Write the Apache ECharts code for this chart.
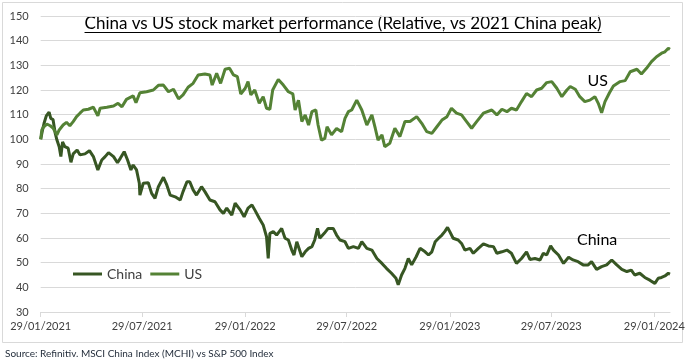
<!DOCTYPE html>
<html>
<head>
<meta charset="utf-8">
<script src="https://cdn.jsdelivr.net/npm/echarts@6/dist/echarts.min.js"></script>
<style>
html,body{margin:0;padding:0;background:#fff;}
#chart{width:690px;height:362px;}
</style>
</head>
<body>
<div id="chart"></div>
<script>
// Dates are given as days since 29/01/2021
const startDate = [2021, 0, 29];
const endDay = 1123;
const tickDays = [0, 181, 365, 546, 730, 911, 1095];
const yTicks = { min: 30, max: 150, step: 10 };

const usDay = [0,2,5,11,17,22,29,33,40,46,52,58,64,70,76,85,94,102,106,118,130,138,145,153,165,170,177,189,201,210,219,228,237,246,254,263,272,281,293,302,306,314,321,329,337,344,351,357,365,370,375,382,390,397,403,409,414,424,433,442,450,454,460,466,472,478,484,491,495,501,507,511,519,528,537,543,549,555,564,573,582,591,597,602,609,614,623,632,641,650,659,671,680,689,698,707,716,725,733,742,751,760,769,778,790,805,814,823,832,840,849,858,867,876,885,894,903,912,921,930,939,945,954,962,971,980,989,995,1001,1007,1015,1022,1034,1043,1052,1064,1072,1081,1090,1099,1108,1114,1120,1123];
const usVal = [100,103.8,105,106.2,105.5,104.6,101.8,103.8,105.8,106.9,105.5,107.2,109.2,110.6,111.9,112.2,113,109.5,112.6,113,113.5,114.6,113.2,116.2,117.6,114.9,118.9,119.3,120,121.9,122,119.3,120.3,116.4,118,121.1,122.7,126.1,126.5,126.1,122,126.8,122.7,128.4,128.8,126.1,125.4,118.4,120.7,123.4,118,120,114.6,117.3,112.6,112.2,120,124.3,122,119.3,118.4,111.9,115.9,107.2,109.9,105.8,111.2,111.9,105.8,99.7,100.4,105.1,101.8,104.4,103.1,108.5,111.2,111.9,115.9,111.9,105.8,109.9,104.5,99.7,101.8,97,98.4,104.5,101.1,107.2,107.2,109.2,106.5,103.1,102.4,105.1,107.8,109.2,112.6,110.6,109.9,107.2,104.5,107.2,110.6,111.9,109.9,112.2,111.2,112.6,111.9,115.3,118.6,117.3,120,120.7,123,123.4,120.7,117.3,120,121.4,120.3,117.3,115.3,115.9,117.3,114.6,110.8,115.3,118.9,121.6,123.4,123.8,127.4,128.4,126.5,128.8,131.5,133.5,134.9,135.5,136.9,136.5];

const chinaDay = [0,3,6,10,15,18,22,26,29,33,36,39,43,49,54,58,65,70,79,87,94,102,109,115,121,130,137,142,149,155,161,165,171,176,177,183,192,198,204,210,219,225,231,240,249,254,261,266,272,278,287,293,302,311,320,326,332,341,347,356,363,370,377,382,390,397,403,406,409,415,421,430,436,442,448,452,457,460,466,472,478,484,489,494,498,506,513,522,528,534,543,549,558,567,573,582,591,600,609,617,626,634,638,644,650,656,662,670,677,686,692,698,704,710,716,721,726,730,736,745,751,757,766,772,781,790,799,808,814,823,832,840,849,858,867,873,882,891,897,903,910,915,924,933,942,950,959,968,977,983,992,1001,1010,1019,1028,1037,1046,1054,1060,1069,1078,1087,1096,1102,1108,1114,1120,1123];
const chinaVal = [100,103.5,106.5,109.5,111,108.5,108,102.4,99.7,97,93,99,97,96.4,90.7,94.1,95.7,93.7,94.1,95.4,93,87.6,91.6,93,94.6,93,90.5,92.3,95,91.6,87.6,89.6,87.6,82.2,77.4,82.2,82.4,78.1,76.1,80.8,84.6,81.5,77.4,76.7,75.4,78.8,82.8,82.8,79.5,77.4,80.8,78.8,75.4,74.7,71.4,70,72.1,69.3,74.1,71.4,68.6,72.1,73.4,71.4,68,65.3,60.5,51.7,61.9,62.6,61.2,63.9,59.9,59.2,55.1,53.1,58.5,59.2,52.4,54.4,55.8,56.5,59.2,63.9,59.9,61.9,63.9,63.9,61.2,59.2,58.5,55.8,56.5,55.8,58.5,55.8,55.1,51.7,49.7,47.7,45.7,43.7,41,45,47.7,51.7,49.1,52.4,55.8,54.4,53.1,54.4,58.5,59.9,61.2,62.6,64.3,62.6,59.9,59.2,57.8,55.1,55.8,53.8,55.8,57.6,56.8,56.5,53.8,54.4,55.1,53.8,49.7,51.7,54.4,51.3,51.7,51.1,53.8,53.1,56.8,55.1,53.1,49.7,52.2,51.1,50.4,49.1,49.1,50.4,47.3,48.4,49.1,51.1,49.1,47.3,46.4,47,45,45.7,44,42.9,41.6,43.7,44,44.6,45.7,45.4];

// annotation labels: [day, value]
const usLabelAt = [994, 123.7];
const chinaLabelAt = [993, 59.2];

const titleText = 'China vs US stock market performance (Relative, vs 2021 China peak)';
const sourceText = 'Source: Refinitiv. MSCI China Index (MCHI) vs S&P 500 Index';

const DAY = 86400000;
const t0 = Date.UTC(startDate[0], startDate[1], startDate[2]);
const pad = n => (n < 10 ? '0' : '') + n;
const fmtDay = v => { const d = new Date(t0 + Math.round(v) * DAY); return pad(d.getUTCDate()) + '/' + pad(d.getUTCMonth() + 1) + '/' + d.getUTCFullYear(); };

const FONT = 'Lato, "Liberation Sans", sans-serif';
const usColor = '#548235';
const chinaColor = '#375623';

const titleSize = 17;
const cv = document.createElement('canvas').getContext('2d');
cv.font = titleSize + 'px Lato';
const titleW = cv.measureText(titleText).width;
const titleCx = 343;

const chart = echarts.init(document.getElementById('chart'), null, { renderer: 'canvas' });
chart.setOption({
  animation: false,
  backgroundColor: '#fff',
  grid: { left: 40.7, right: 20, top: 16, bottom: 50, containLabel: false },
  legend: {
    left: 68, top: 262,
    icon: 'rect', itemWidth: 29, itemHeight: 3, itemGap: 8,
    textStyle: { fontFamily: FONT, fontSize: 14, color: '#404040' },
    data: ['China', 'US']
  },
  xAxis: {
    type: 'value',
    min: 0, max: endDay,
    splitLine: { show: false },
    axisLine: { lineStyle: { color: '#d9d9d9', width: 1 } },
    axisTick: { show: true, length: 5, lineStyle: { color: '#d9d9d9' }, customValues: tickDays },
    axisLabel: {
      customValues: tickDays,
      formatter: v => fmtDay(v),
      fontFamily: FONT, fontSize: 11, color: '#404040', margin: 9, hideOverlap: false
    }
  },
  yAxis: {
    type: 'value', min: yTicks.min, max: yTicks.max, interval: yTicks.step,
    axisLine: { show: false }, axisTick: { show: false },
    splitLine: { lineStyle: { color: '#d9d9d9', width: 1 } },
    axisLabel: { fontFamily: FONT, fontSize: 11, color: '#404040', margin: 12 }
  },
  series: [
    {
      name: 'China', type: 'line', symbol: 'none', smooth: false,
      lineStyle: { color: chinaColor, width: 3 }, itemStyle: { color: chinaColor },
      data: chinaDay.map((d, i) => [d, chinaVal[i]]),
      markPoint: {
        symbol: 'circle', symbolSize: 1, itemStyle: { color: 'rgba(0,0,0,0)' },
        label: { show: true, position: 'inside', formatter: 'China', fontFamily: FONT, fontSize: 16, color: '#000' },
        data: [{ coord: [chinaLabelAt[0], chinaLabelAt[1]] }]
      }
    },
    {
      name: 'US', type: 'line', symbol: 'none', smooth: false,
      lineStyle: { color: usColor, width: 3 }, itemStyle: { color: usColor },
      data: usDay.map((d, i) => [d, usVal[i]]),
      markPoint: {
        symbol: 'circle', symbolSize: 1, itemStyle: { color: 'rgba(0,0,0,0)' },
        label: { show: true, position: 'inside', formatter: 'US', fontFamily: FONT, fontSize: 16, color: '#000' },
        data: [{ coord: [usLabelAt[0], usLabelAt[1]] }]
      }
    }
  ],
  graphic: [
    { type: 'rect', shape: { x: 2.5, y: 2.5, width: 680, height: 340 }, style: { fill: 'none', stroke: '#d9d9d9', lineWidth: 1 }, silent: true },
    { type: 'text', x: titleCx, y: 24, style: { text: titleText, fontFamily: FONT, fontSize: titleSize, fill: '#000', align: 'center', verticalAlign: 'middle' } },
    { type: 'line', shape: { x1: titleCx - titleW / 2, y1: 32.5, x2: titleCx + titleW / 2, y2: 32.5 }, style: { stroke: '#000', lineWidth: 1 } },
    { type: 'text', x: 5, y: 354, style: { text: sourceText, fontFamily: FONT, fontSize: 10, fill: '#1f2937', verticalAlign: 'middle' } }
  ]
});
</script>
</body>
</html>
